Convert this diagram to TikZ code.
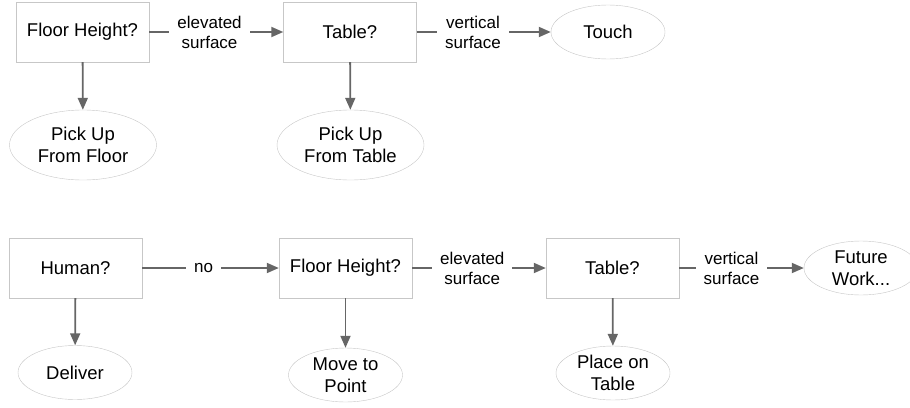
\documentclass[tikz,border=0pt]{standalone}
\usepackage{fontspec}
\setmainfont{Liberation Sans}
\usetikzlibrary{shapes.geometric,arrows.meta}

\begin{document}
\begin{tikzpicture}[x=1pt,y=1pt]
              \tikzstyle{question}=[draw=black!22, fill=white, minimum width=133pt, minimum height=60pt, font=\fontsize{18.5}{22}\selectfont]
              \tikzstyle{action}=[ellipse, draw=black!22, fill=white, minimum width=114pt, minimum height=54pt, inner sep=0pt, align=center, font=\fontsize{18.5}{22}\selectfont]
              \tikzstyle{bigaction}=[action, minimum width=147pt, minimum height=70pt]
              \tikzstyle{edgelabel}=[fill=white, align=center, inner xsep=8pt, inner ysep=3pt, font=\fontsize{17}{20}\selectfont]
              \tikzstyle{flow}=[draw=black!60, line width=1.8pt, -{Triangle[length=12pt,width=10pt]}]
              \useasboundingbox (0,0) rectangle (910,-407);
              % upper chart
              \node [question] (floorA) at (82.5,-32) {Floor Height?};
              \node [question] (tableA) at (350,-32) {Table?};
              \node [action] (touch) at (608,-32) {Touch};
              \node [bigaction] (pickfloor) at (83,-145) {Pick Up\\From Floor};
              \node [bigaction] (picktable) at (350.5,-145) {Pick Up\\From Table};
              \draw [flow] (floorA) -- node [edgelabel, pos=.45] {elevated\\surface} (tableA);
              \draw [flow] (tableA) -- node [edgelabel, pos=.42] {vertical\\surface} (touch);
              \draw [flow] (floorA) -- (pickfloor);
              \draw [flow] (tableA) -- (picktable);
              % lower chart
              \node [question] (human) at (75.5,-268) {Human?};
              \node [question] (floorB) at (345.5,-268) {Floor Height?};
              \node [question] (tableB) at (612.5,-268) {Table?};
              \node [action] (deliver) at (75,-372.5) {Deliver};
              \node [action] (movepoint) at (345.5,-375) {Move to\\Point};
              \node [action] (placetable) at (613,-373) {Place on\\Table};
              \node [action] (future) at (861,-268) {Future\\Work...};
              \draw [flow] (human) -- node [edgelabel, pos=.45] {no} (floorB);
              \draw [flow] (floorB) -- node [edgelabel, pos=.45] {elevated\\surface} (tableB);
              \draw [flow] (tableB) -- node [edgelabel, pos=.42] {vertical\\surface} (future);
              \draw [flow] (human) -- (deliver);
              \draw [flow] (floorB) -- (movepoint);
              \draw [flow] (tableB) -- (placetable);
            \end{tikzpicture}
\end{document}
